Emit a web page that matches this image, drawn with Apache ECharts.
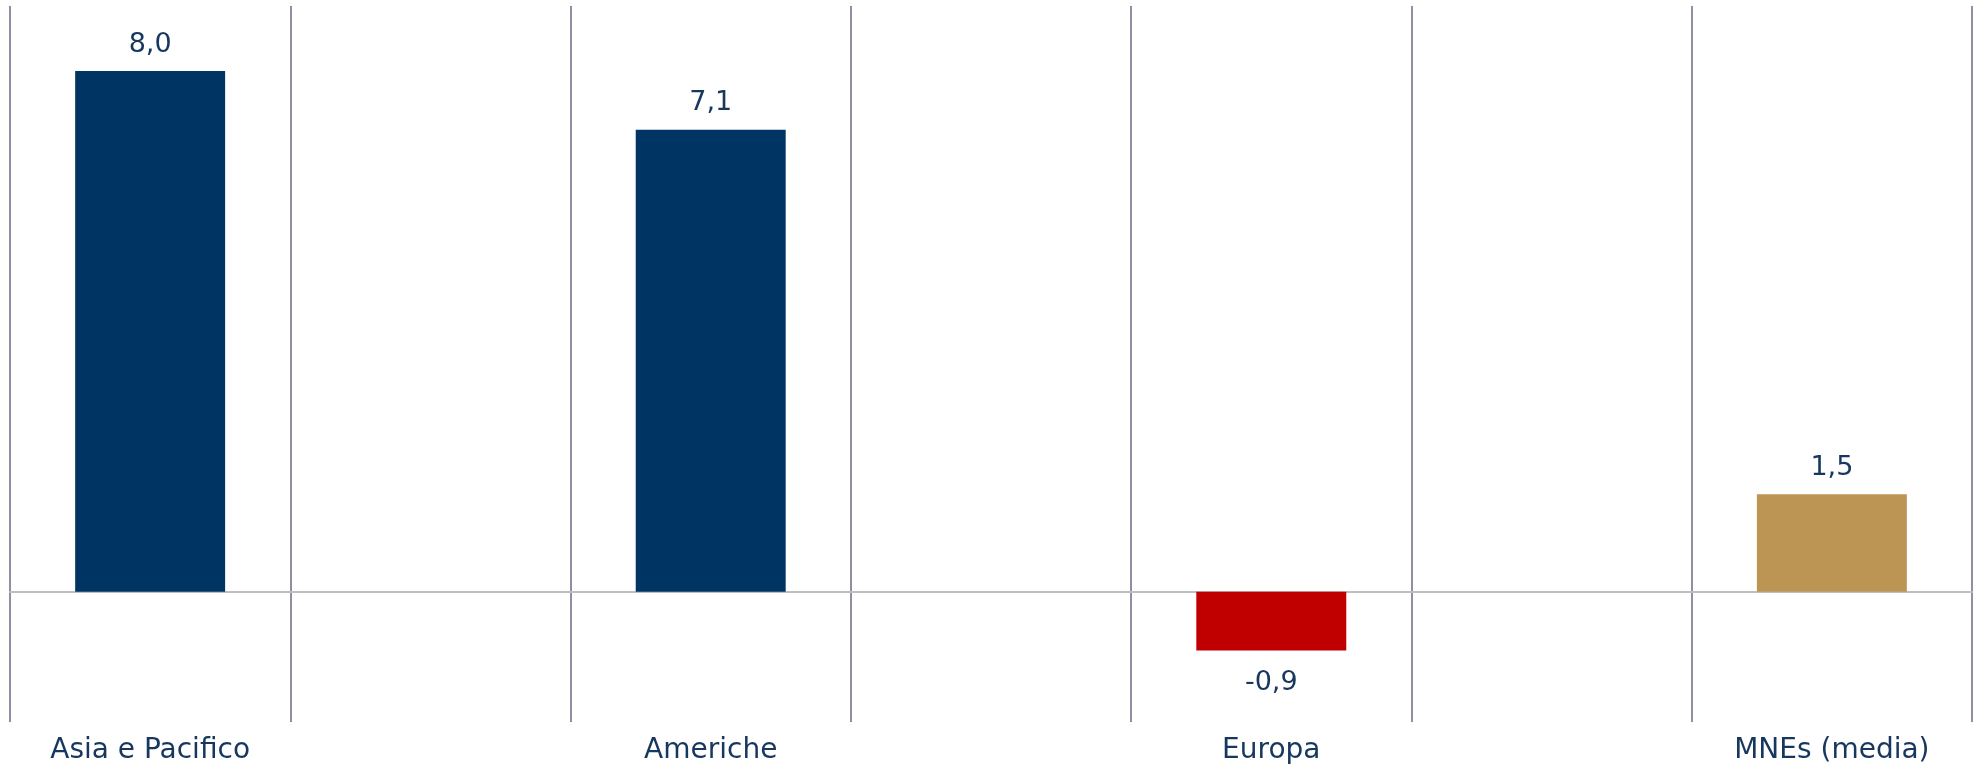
<!DOCTYPE html>
<html>
<head>
<meta charset="utf-8">
<script src="https://cdn.jsdelivr.net/npm/echarts@6/dist/echarts.min.js"></script>
<style>
  html, body { margin: 0; padding: 0; background: #fff; }
  #chart { width: 1974px; height: 769px; }
</style>
</head>
<body>
<div id="chart"></div>
<script>
// regions, with empty slots between them
const categories = ['Asia e Pacifico', '', 'Americhe', '', 'Europa', '', 'MNEs (media)']
const values = [8.0, '-', 7.1, '-', -0.9, '-', 1.5]

const barColors = ['#003462', null, '#003462', null, '#c00000', null, '#bc9555']
const textColor = '#17375e'
const fontFamily = '"DejaVu Sans", sans-serif'

const chart = echarts.init(document.getElementById('chart'))

const fmt = (v) => Number(v).toFixed(1).replace('.', ',')

chart.setOption({
  animation: false,
  grid: { left: 10, right: 2, top: 6, bottom: 47, outerBoundsMode: 'none', containLabel: false },
  xAxis: {
    type: 'category',
    data: categories,
    boundaryGap: true,
    axisLine: { onZero: true, lineStyle: { color: '#bfbfbf', width: 2 } },
    axisTick: { show: false },
    splitLine: { show: true, lineStyle: { color: '#8f8fa3', width: 2 } },
    axisLabel: {
      show: true,
      interval: 0,
      color: textColor,
      fontFamily: fontFamily,
      fontSize: 28,
      margin: 15,
    },
  },
  yAxis: {
    type: 'value',
    min: -2,
    max: 9,
    interval: 1,
    show: false,
    splitLine: { show: false },
  },
  series: [{
    type: 'bar',
    data: values.map((v, i) => ({
      value: v,
      itemStyle: { color: barColors[i] || '#003462' },
      label: v < 0 ? { position: 'bottom', distance: 19 } : { position: 'top' },
    })),
    barWidth: '53.5%',
    label: {
      show: true,
      distance: 13,
      color: textColor,
      fontFamily: fontFamily,
      fontSize: 27,
      formatter: (p) => fmt(p.value),
    },
  }],
})
</script>
</body>
</html>
